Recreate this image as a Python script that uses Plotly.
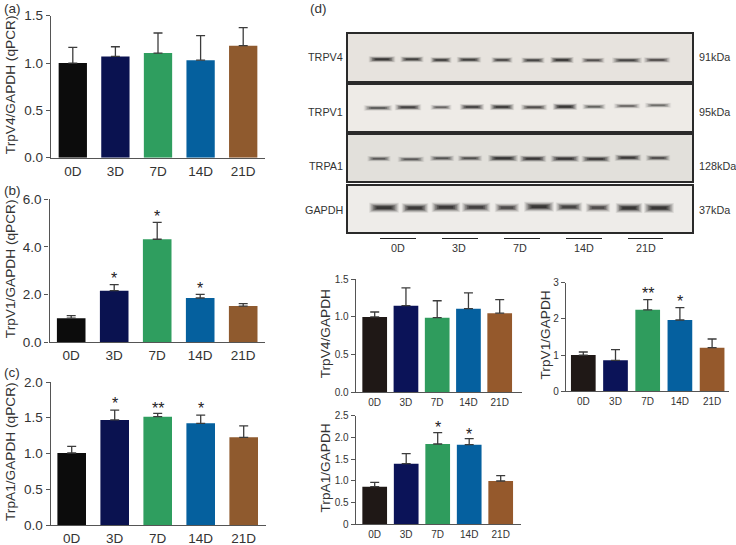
import plotly.graph_objects as go

W, H = 736, 545
DAYS = ["0D", "3D", "7D", "14D", "21D"]

# (a)-(c) qPCR
a_mean = [1.0, 1.07, 1.105, 1.03, 1.183]
a_top = [1.166, 1.172, 1.317, 1.289, 1.373]
b_mean = [1.0, 2.16, 4.32, 1.85, 1.51]
b_top = [1.107, 2.41, 5.03, 2.0, 1.61]
c_mean = [1.007, 1.469, 1.515, 1.422, 1.226]
c_top = [1.1, 1.608, 1.562, 1.538, 1.385]
# (d) western-blot densitometry
e_mean = [1.0, 1.15, 0.99, 1.11, 1.05]
e_top = [1.066, 1.385, 1.215, 1.32, 1.23]
f_mean = [1.0, 0.855, 2.25, 1.97, 1.205]
f_top = [1.085, 1.15, 2.53, 2.31, 1.445]
g_mean = [0.867, 1.396, 1.848, 1.833, 0.997]
g_top = [0.966, 1.626, 2.11, 1.97, 1.12]

# significance marks: (bar index, text, height in axis units)
b_stars = [(1, "*", 2.82), (2, "*", 5.45), (3, "*", 2.41)]
c_stars = [(1, "*", 1.758), (2, "**", 1.692), (3, "*", 1.688)]
f_stars = [(2, "**", 2.80), (3, "*", 2.59)]
g_stars = [(2, "*", 2.32), (3, "*", 2.17)]

# band darkness per lane
trpv4_density = [0.95, 0.8, 0.8, 0.8, 0.7, 0.75, 0.95, 0.6, 0.75, 0.65]
trpv1_density = [0.55, 0.8, 0.4, 0.8, 0.9, 0.65, 1.0, 0.45, 0.4, 0.35]
trpa1_density = [0.5, 0.5, 0.55, 0.6, 1.0, 0.95, 0.95, 0.9, 0.9, 0.65]
gapdh_density = [1.0, 0.95, 0.95, 0.85, 0.7, 1.0, 0.8, 0.7, 1.0, 1.0]

UPPER_COLORS = ["#0c0c0c", "#0a1250", "#2f9e5f", "#05609e", "#8f5a2e"]
LOWER_COLORS = ["#1f1816", "#0b1358", "#2f9c5d", "#05609f", "#95592c"]
INK = "#333333"
AXIS = "#555555"
FONT = "Liberation Sans"

def px(x):
    return x / W

def py(y):
    return 1 - y / H

fig = go.Figure()
annotations, shapes = [], []
layout = {}
axis_no = [0]

def bar_panel(mean, top, stars, colors, left, right, y_top, y_zero, c0, step, bar_w,
              ymax, tickvals, ticktext, title, tick_size, title_x):
    axis_no[0] += 1
    n = axis_no[0]
    xa, ya = f"x{n}", f"y{n}"
    fig.add_trace(go.Bar(
        x=DAYS, y=mean, xaxis=xa, yaxis=ya, width=bar_w / step,
        marker=dict(color=colors, line=dict(width=0)), showlegend=False,
        error_y=dict(type="data", symmetric=False,
                     array=[t - m for t, m in zip(top, mean)],
                     arrayminus=[0] * len(mean), color="#3c3c3c", thickness=1.3, width=4.5),
    ))
    layout[f"xaxis{n}"] = dict(
        domain=[px(left), px(right)], anchor=ya, type="category", categoryorder="array",
        categoryarray=DAYS, range=[(left - c0) / step, (right - c0) / step], automargin=False,
        showline=True, linecolor=AXIS, linewidth=1.3, showgrid=False, zeroline=False,
        ticks="outside", ticklen=1, tickcolor="rgba(0,0,0,0)",
        tickfont=dict(family=FONT, size=tick_size, color=INK),
    )
    layout[f"yaxis{n}"] = dict(
        domain=[py(y_zero), py(y_top)], anchor=xa, range=[0, ymax], automargin=False,
        tickmode="array", tickvals=tickvals, ticktext=ticktext,
        showline=True, linecolor=AXIS, linewidth=1.3, showgrid=False, zeroline=False,
        ticks="outside", ticklen=4, tickwidth=1.2, tickcolor=AXIS,
        tickfont=dict(family=FONT, size=tick_size, color=INK),
    )
    annotations.append(dict(xref="paper", yref="paper", x=px(title_x), y=py((y_top + y_zero) / 2 - 1.5),
                            text=title, textangle=-90, showarrow=False, xanchor="center", yanchor="middle",
                            font=dict(family=FONT, size=13.7, color=INK)))
    for i, text, h in stars:
        annotations.append(dict(xref=xa, yref=ya, x=i, y=h, text=text, showarrow=False,
                                yshift=-4, font=dict(family=FONT, size=16, color="#222222")))

T_A = [0, 0.5, 1.0, 1.5]
bar_panel(a_mean, a_top, [], UPPER_COLORS, 51, 265, 15.7, 157.7, 72.8, 42.6, 28.3, 1.5,
          T_A, ["0.0", "0.5", "1.0", "1.5"], "TrpV4/GAPDH (qPCR)", 13.5, 10)
bar_panel(b_mean, b_top, b_stars, UPPER_COLORS, 49.5, 265, 199.3, 342, 71.2, 43, 28.6, 6,
          [0, 2, 4, 6], ["0.0", "2.0", "4.0", "6.0"], "TrpV1/GAPDH (qPCR)", 13.5, 10)
bar_panel(c_mean, c_top, c_stars, UPPER_COLORS, 50.7, 265.7, 382, 525, 71.7, 43, 28.6, 2,
          [0, 0.5, 1, 1.5, 2], ["0.0", "0.5", "1.0", "1.5", "2.0"], "TrpA1/GAPDH (qPCR)", 13.5, 10)
bar_panel(e_mean, e_top, [], LOWER_COLORS, 355.7, 521.7, 279.3, 392.3, 374.7, 31.25, 24.7, 1.5,
          T_A, ["0.0", "0.5", "1.0", "1.5"], "TrpV4/GAPDH", 10, 325)
bar_panel(f_mean, f_top, f_stars, LOWER_COLORS, 566, 729, 282.7, 391.3, 583.3, 32.2, 24.7, 3,
          [0, 1, 2, 3], ["0", "1", "2", "3"], "TrpV1/GAPDH", 10, 545)
bar_panel(g_mean, g_top, g_stars, LOWER_COLORS, 355.7, 521, 415.7, 524.3, 374.7, 31.5, 24.7, 2.5,
          [0, 0.5, 1, 1.5, 2, 2.5], ["0", "0.5", "1.0", "1.5", "2.0", "2.5"], "TrpA1/GAPDH", 10, 325)

# Blot frames share one horizontal position; each has its own band geometry.
BLOT_L, BLOT_R = 348, 692
# Soft, tapered band: (length factor, width factor, opacity), drawn outermost first.
LAYERS = [(1.06, 1.9, 0.07), (0.98, 1.6, 0.10), (0.9, 1.3, 0.15), (0.8, 1.0, 0.22),
          (0.68, 0.75, 0.30), (0.54, 0.5, 0.35)]

def blot_panel(density, lane_x, band_y, band_len, thick, frame_top, frame_bot, bg):
    axis_no[0] += 1
    n = axis_no[0]
    xa, ya = f"x{n}", f"y{n}"
    for d, x, y, ln in zip(density, lane_x, band_y, band_len):
        for len_f, wid_f, alpha in LAYERS:
            half = ln * len_f / 2
            fig.add_trace(go.Scatter(
                x=[x - half, x + half], y=[y, y], xaxis=xa, yaxis=ya, mode="lines",
                hoverinfo="skip", showlegend=False,
                line=dict(color=f"rgba(18,16,16,{alpha * (0.35 + 0.85 * d):.3f})",
                          width=thick * wid_f * (0.65 + 0.35 * d)),
            ))
    frame = dict(showline=True, linecolor="#2a2a2a", linewidth=2, mirror=True, automargin=False,
                 showgrid=False, zeroline=False, showticklabels=False, ticks="")
    layout[f"xaxis{n}"] = dict(domain=[px(BLOT_L), px(BLOT_R)], anchor=ya,
                               range=[BLOT_L, BLOT_R], **frame)
    layout[f"yaxis{n}"] = dict(domain=[py(frame_bot), py(frame_top)], anchor=xa,
                               range=[frame_bot, frame_top], **frame)
    shapes.append(dict(type="rect", xref=f"{xa} domain", yref=f"{ya} domain", x0=0, x1=1, y0=0, y1=1,
                       fillcolor=bg, line=dict(width=0), layer="below"))

blot_panel(trpv4_density,
           [382, 412, 441, 469, 502, 533, 562, 593, 627, 657],
           [59.3, 59.3, 60, 59.7, 60, 60.3, 60, 60.3, 60.3, 60],
           [25, 22, 20, 23, 20, 22, 22, 22, 28, 25], 3.2, 34, 81, "#e7e3de")
blot_panel(trpv1_density,
           [378, 408, 441, 472, 502, 534, 565, 594, 627, 658],
           [108, 107.3, 107.3, 107, 107, 107.3, 106.7, 106.7, 106, 105.3],
           [27, 25, 20, 23, 23, 25, 23, 22, 25, 25], 3.4, 85, 131, "#eeebe7")
blot_panel(trpa1_density,
           [379, 411, 442, 470, 503, 533, 565, 596, 628, 658],
           [158.7, 159.3, 158.3, 158.3, 158.3, 158.7, 158.7, 159, 157.7, 158],
           [22, 25, 23, 23, 28, 25, 27, 27, 25, 23], 3.4, 135, 181, "#e2e0db")
blot_panel(gapdh_density,
           [384, 415, 446, 476, 507, 539, 569, 598, 629, 659],
           [207.7, 208, 207.3, 207.3, 207.7, 206.7, 207, 207.7, 208, 208],
           [28, 25, 27, 27, 23, 28, 25, 23, 25, 28], 5.2, 186, 232, "#eeece9")

def label(x, y, text, size, anchor="left", color=INK):
    annotations.append(dict(xref="paper", yref="paper", x=px(x), y=py(y), text=text, showarrow=False,
                            xanchor=anchor, yanchor="middle", font=dict(family=FONT, size=size, color=color)))

for x, y, t in [(2, 9, "(a)"), (2, 190, "(b)"), (2, 372, "(c)"), (308, 9, "(d)")]:
    label(x, y, t, 13.5)
for y, name, kda in [(57, "TRPV4", "91kDa"), (112, "TRPV1", "95kDa"),
                     (166, "TRPA1", "128kDa"), (210, "GAPDH", "37kDa")]:
    label(345, y, name, 10.8, "right")
    label(697, y, kda, 10.8)

UNDER = [(380, 416, 398), (442, 478, 459), (504, 540, 520), (566, 602, 584), (628, 663, 646)]
for (x0, x1, cx), day in zip(UNDER, DAYS):
    shapes.append(dict(type="line", xref="paper", yref="paper", x0=px(x0), x1=px(x1),
                       y0=py(238.5), y1=py(238.5), line=dict(color="#222222", width=1)))
    label(cx, 248, day, 10.8, "center")

fig.update_layout(width=W, height=H, margin=dict(l=0, r=0, t=0, b=0), autosize=False,
                  paper_bgcolor="white", plot_bgcolor="rgba(0,0,0,0)", showlegend=False,
                  annotations=annotations, shapes=shapes, **layout)
fig.write_html("out.html", config={"displayModeBar": False},
               post_script="document.body.style.margin='0';document.documentElement.style.overflow='hidden';")
